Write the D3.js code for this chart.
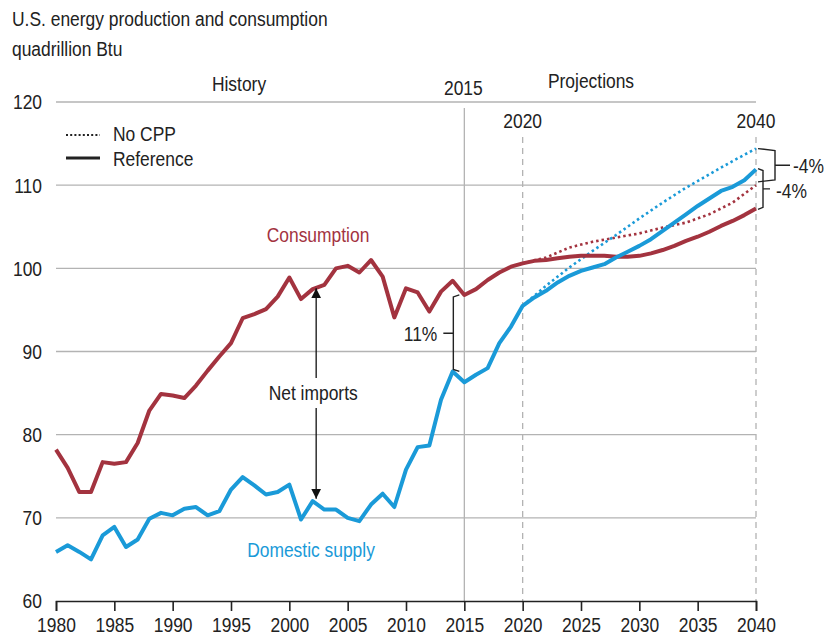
<!DOCTYPE html>
<html lang="en">
<head>
<meta charset="UTF-8">
<title>energy production and consumption</title>
<script src="https://cdn.jsdelivr.net/npm/d3@7"></script>
<style>
	body { margin: 0; background: #fff; }
	text { font-family: "Liberation Sans Narrow", "Arial Narrow", "Liberation Sans", Arial, sans-serif; font-size: 21px; fill: #222; }
	.grid { stroke: #b3b3b3; stroke-width: 1.3px; }
	.line { fill: none; stroke-linejoin: round; }
</style>
</head>
<body>
<svg id="svg" width="824" height="641"></svg>
<script>
// history + reference projection, 1980-2040
var years = d3.range(1980, 2041);
var consumption = [
	78.2, 76.0, 73.1, 73.1, 76.7, 76.5, 76.7, 79.0, 82.9, 84.9,
	84.7, 84.4, 85.9, 87.7, 89.4, 91.0, 94.0, 94.5, 95.1, 96.6,
	98.9, 96.3, 97.5, 98.0, 100.0, 100.3, 99.5, 101.0, 99.0, 94.1,
	97.6, 97.1, 94.8, 97.2, 98.5, 96.8, 97.5, 98.6, 99.5, 100.2,
	100.6, 100.9, 101.0, 101.2, 101.4, 101.5, 101.5, 101.5, 101.4, 101.4,
	101.5, 101.8, 102.2, 102.7, 103.3, 103.8, 104.4, 105.1, 105.7, 106.4,
	107.2
];
var domestic = [
	65.9, 66.7, 65.9, 65.0, 67.9, 68.9, 66.5, 67.4, 69.9, 70.6,
	70.3, 71.1, 71.3, 70.3, 70.8, 73.4, 74.9, 73.9, 72.8, 73.1,
	74.0, 69.8, 72.0, 71.0, 71.0, 70.0, 69.6, 71.6, 72.9, 71.3,
	75.8, 78.5, 78.7, 84.2, 87.6, 86.3, 87.2, 88.0, 91.0, 93.0,
	95.5, 96.5, 97.3, 98.3, 99.1, 99.7, 100.1, 100.5, 101.3, 102.0,
	102.7, 103.5, 104.5, 105.5, 106.5, 107.5, 108.4, 109.3, 109.8, 110.6,
	111.9
];
// No CPP case, 2020-2040 every two years
var noCppYears = [2020, 2022, 2024, 2026, 2028, 2030, 2032, 2034, 2036, 2038, 2040];
var consumptionNoCpp = [100.6, 101.3, 102.5, 103.2, 103.7, 104.2, 104.9, 105.5, 106.5, 107.9, 110.0];
var domesticNoCpp = [95.5, 97.9, 100.1, 102.1, 104.0, 106.0, 107.9, 109.7, 111.3, 112.9, 114.4];

var yTicks = [60, 70, 80, 90, 100, 110, 120];
var xTicks = [1980, 1985, 1990, 1995, 2000, 2005, 2010, 2015, 2020, 2025, 2030, 2035, 2040];

var red = '#a3333f', blue = '#1a9ad8';
var squeeze = 0.83; // narrow face is not installed, so condense the regular one

var svg = d3.select('#svg');

var x = d3.scaleLinear().domain([1980, 2040]).range([56, 756]);
var y = d3.scaleLinear().domain([60, 120]).range([601, 102]);

function label(tx, ty, str, anchor, color) {
	var t = svg.append('text')
		.attr('transform', 'translate(' + tx + ',' + ty + ') scale(' + squeeze + ',1)')
		.attr('text-anchor', anchor || 'start')
		.text(str);
	if (color) t.style('fill', color);
	return t;
}

// gridlines
svg.selectAll('line.grid').data(yTicks.filter(function (d) { return d > 60; }))
	.enter().append('line')
	.attr('class', 'grid')
	.attr('x1', x(1980)).attr('x2', x(2040))
	.attr('y1', function (d) { return y(d); })
	.attr('y2', function (d) { return y(d); });

yTicks.forEach(function (d) {
	label(42, y(d), d, 'end').attr('dy', '0.35em');
});

// period markers
svg.append('line')
	.attr('x1', x(2015)).attr('x2', x(2015))
	.attr('y1', 108).attr('y2', y(60))
	.attr('stroke', '#b3b3b3').attr('stroke-width', 1.3);

[2020, 2040].forEach(function (yr) {
	svg.append('line')
		.attr('x1', x(yr)).attr('x2', x(yr))
		.attr('y1', 137).attr('y2', y(60))
		.attr('stroke', '#b3b3b3').attr('stroke-width', 1.3)
		.attr('stroke-dasharray', '6,5');
});

// x axis
var xAxis = d3.axisBottom(x)
	.tickValues(xTicks)
	.tickFormat(d3.format('d'))
	.tickSize(10)
	.tickPadding(6);

var gx = svg.append('g')
	.attr('transform', 'translate(0,' + y(60) + ')')
	.call(xAxis);
gx.select('.domain').attr('stroke', '#222').attr('stroke-width', 1.6);
gx.selectAll('.tick line').attr('stroke', '#222').attr('stroke-width', 1.6);
gx.selectAll('.tick text')
	.style('font-family', '"Liberation Sans Narrow", "Arial Narrow", "Liberation Sans", Arial, sans-serif')
	.style('font-size', '21px')
	.attr('fill', '#222')
	.attr('transform', 'scale(' + squeeze + ',1)');

// lines
var line = d3.line()
	.x(function (d) { return x(d[0]); })
	.y(function (d) { return y(d[1]); });

function pairs(xs, ys) {
	return xs.map(function (v, i) { return [v, ys[i]]; });
}

svg.append('path')
	.attr('class', 'line')
	.attr('d', line(pairs(noCppYears, consumptionNoCpp)))
	.attr('stroke', red).attr('stroke-width', 2.6)
	.attr('stroke-dasharray', '2.5,3');

svg.append('path')
	.attr('class', 'line')
	.attr('d', line(pairs(noCppYears, domesticNoCpp)))
	.attr('stroke', blue).attr('stroke-width', 2.6)
	.attr('stroke-dasharray', '2.5,3');

svg.append('path')
	.attr('class', 'line')
	.attr('d', line(pairs(years, consumption)))
	.attr('stroke', red).attr('stroke-width', 4);

svg.append('path')
	.attr('class', 'line')
	.attr('d', line(pairs(years, domestic)))
	.attr('stroke', blue).attr('stroke-width', 4);

// titles
label(12, 26, 'U.S. energy production and consumption');
label(12, 56, 'quadrillion Btu');
label(239, 91, 'History', 'middle');
label(591, 88, 'Projections', 'middle');
label(x(2015) - 1, 95, '2015', 'middle');
label(x(2020), 128, '2020', 'middle');
label(x(2040), 128, '2040', 'middle');

// legend
svg.append('line').attr('x1', 66).attr('x2', 100).attr('y1', 135).attr('y2', 135)
	.attr('stroke', '#222').attr('stroke-width', 2).attr('stroke-dasharray', '2,2.2');
label(113, 141, 'No CPP');
svg.append('line').attr('x1', 66).attr('x2', 100).attr('y1', 158).attr('y2', 158)
	.attr('stroke', '#222').attr('stroke-width', 3);
label(113, 166, 'Reference');

// series labels
label(318, 242, 'Consumption', 'middle', red);
label(311, 557, 'Domestic supply', 'middle', blue);

// net imports arrows
svg.append('defs').append('marker')
	.attr('id', 'arrow')
	.attr('viewBox', '0 0 10 10')
	.attr('refX', 10).attr('refY', 5)
	.attr('markerWidth', 10).attr('markerHeight', 10)
	.attr('markerUnits', 'userSpaceOnUse')
	.attr('orient', 'auto')
	.append('path').attr('d', 'M0,0 L10,5 L0,10 z').attr('fill', '#111');

var ax = x(2002.3);
svg.append('line').attr('x1', ax).attr('x2', ax).attr('y1', 378).attr('y2', y(97.6))
	.attr('stroke', '#111').attr('stroke-width', 1.3).attr('marker-end', 'url(#arrow)');
svg.append('line').attr('x1', ax).attr('x2', ax).attr('y1', 408).attr('y2', y(72.3))
	.attr('stroke', '#111').attr('stroke-width', 1.3).attr('marker-end', 'url(#arrow)');
label(ax - 3, 400, 'Net imports', 'middle');

// curly brackets
function bracket(bx, y0, y1, hook, tick) {
	var ym = (y0 + y1) / 2;
	var p = 'M' + (bx - hook) + ',' + y0 + ' L' + bx + ',' + (y0 + 2) +
		' L' + bx + ',' + (y1 - 2) + ' L' + (bx - hook) + ',' + y1 +
		' M' + bx + ',' + ym + ' L' + (bx + tick) + ',' + ym;
	svg.append('path').attr('d', p).attr('fill', 'none')
		.attr('stroke', '#222').attr('stroke-width', 1.4);
	return ym;
}

// 11% bracket at 2015 (hooks point right, towards the lines)
var m0 = bracket(x(2015) - 11, y(96.8), y(87.6), -6, -10);
label(x(2015) - 27, m0, '11%', 'end').attr('dy', '0.35em');

// -4% brackets at 2040
var m1 = bracket(x(2040) + 19, y(114.4), y(110.4), 17, 15);
label(x(2040) + 37, m1, '-4%').attr('dy', '0.35em');
var m2 = bracket(x(2040) + 7, y(112.0), y(107.1), 5, 7);
label(x(2040) + 20, m2 + 2, '-4%').attr('dy', '0.35em');
</script>
</body>
</html>
